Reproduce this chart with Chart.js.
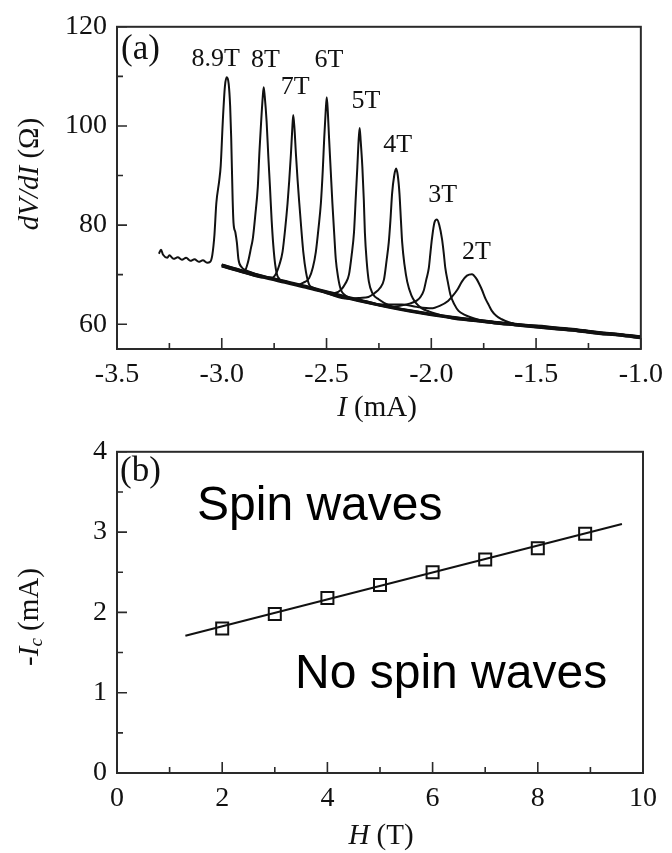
<!DOCTYPE html>
<html>
<head>
<meta charset="utf-8">
<script src="https://cdn.jsdelivr.net/npm/chart.js@4.4.1/dist/chart.umd.min.js"></script>
<style>
  html, body { margin: 0; padding: 0; background: #fff; }
  #wrap { position: relative; width: 672px; height: 853px; }
  canvas { position: absolute; left: 0; }
  #chartA { top: 0; }
  #chartB { top: 425px; }
</style>
</head>
<body>
<div id="wrap">
  <canvas id="chartA" width="672" height="425"></canvas>
  <canvas id="chartB" width="672" height="428"></canvas>
</div>
<script>
// ---- panel (a): dV/dI (ohm) vs I (mA) ----
const fieldLabels = ['8.9T', '8T', '7T', '6T', '5T', '4T', '3T', '2T'];

// shared background
const bgCurrent = [-3.0, -2.9, -2.8, -2.7, -2.6, -2.5, -2.4, -2.3, -2.2, -2.1, -2.0,
  -1.9, -1.8, -1.7, -1.6, -1.5, -1.4, -1.3, -1.2, -1.1, -1.0];
const bgResistance = [71.8, 70.6, 69.5, 68.5, 67.5, 66.4, 65.3, 64.3, 63.4, 62.6, 61.9,
  61.3, 60.8, 60.3, 59.9, 59.5, 59.1, 58.7, 58.2, 57.8, 57.3];
// small per-curve lift of the background (ohm), gives the band its width
const bgLift = [0.0, 0.15, -0.1, 0.2, 0.05, -0.15, 0.1, 0.25];

// peak sections [I, dV/dI]
const peak89T = [[-3.30, 74.2], [-3.29, 75.0], [-3.28, 74.0], [-3.26, 73.4], [-3.25, 73.9], [-3.23, 73.2],
  [-3.21, 73.5], [-3.19, 73.0], [-3.17, 73.4], [-3.15, 72.8], [-3.13, 73.1], [-3.11, 72.6], [-3.09, 72.9],
  [-3.07, 72.4], [-3.055, 72.6], [-3.045, 74.0], [-3.035, 78.0], [-3.026, 84.4], [-3.012, 89.0],
  [-3.005, 92.0], [-2.995, 101.0], [-2.985, 108.0], [-2.976, 109.8], [-2.967, 108.5], [-2.960, 104.0],
  [-2.955, 97.6], [-2.948, 85.0], [-2.944, 80.5], [-2.935, 78.5], [-2.928, 76.5], [-2.920, 73.0],
  [-2.905, 71.5], [-2.89, 71.0], [-2.85, 70.3]];
const peak8T = [[-2.89, 70.8], [-2.875, 72.5], [-2.86, 75.5], [-2.852, 77.2], [-2.84, 82.0], [-2.828, 87.7],
  [-2.82, 95.0], [-2.812, 100.9], [-2.805, 105.5], [-2.800, 107.8], [-2.795, 106.0], [-2.786, 100.9],
  [-2.778, 94.0], [-2.770, 87.7], [-2.762, 81.0], [-2.754, 75.9], [-2.745, 72.0], [-2.733, 69.6]];
const peak7T = [[-2.76, 69.4], [-2.74, 70.3], [-2.725, 72.0], [-2.710, 74.6], [-2.698, 79.0], [-2.686, 84.4],
  [-2.678, 89.0], [-2.670, 94.3], [-2.664, 99.0], [-2.659, 102.2], [-2.653, 99.5], [-2.646, 94.3],
  [-2.638, 89.0], [-2.630, 84.4], [-2.620, 79.0], [-2.611, 74.6], [-2.598, 70.5], [-2.583, 68.0], [-2.565, 67.4]];
const peak6T = [[-2.64, 68.0], [-2.61, 68.4], [-2.583, 69.3], [-2.565, 71.5], [-2.551, 74.6], [-2.538, 79.5],
  [-2.527, 84.4], [-2.518, 91.0], [-2.511, 97.6], [-2.504, 103.0], [-2.499, 105.8], [-2.494, 103.0],
  [-2.488, 97.6], [-2.480, 91.0], [-2.472, 84.4], [-2.463, 78.0], [-2.456, 73.2], [-2.445, 69.5],
  [-2.432, 67.0], [-2.41, 65.8]];
const peak5T = [[-2.46, 66.3], [-2.432, 66.9], [-2.41, 68.2], [-2.393, 70.0], [-2.380, 74.0], [-2.369, 78.5],
  [-2.360, 86.0], [-2.353, 91.7], [-2.347, 97.0], [-2.342, 99.6], [-2.337, 97.0], [-2.329, 91.7],
  [-2.322, 85.0], [-2.317, 78.5], [-2.308, 72.5], [-2.298, 68.6], [-2.280, 66.2], [-2.250, 65.0], [-2.20, 63.8]];
const peak4T = [[-2.34, 65.3], [-2.30, 65.5], [-2.27, 66.3], [-2.245, 67.3], [-2.226, 69.0], [-2.213, 73.0],
  [-2.203, 76.5], [-2.195, 81.0], [-2.187, 86.4], [-2.177, 90.0], [-2.168, 91.4], [-2.160, 90.0],
  [-2.152, 86.4], [-2.145, 81.0], [-2.139, 76.5], [-2.128, 72.0], [-2.115, 68.6], [-2.095, 65.8],
  [-2.076, 64.4], [-2.045, 63.2], [-2.012, 62.6], [-1.97, 62.0]];
const peak3T = [[-2.15, 63.7], [-2.10, 64.2], [-2.068, 64.8], [-2.050, 65.6], [-2.036, 66.8], [-2.024, 69.0],
  [-2.012, 71.3], [-2.004, 74.5], [-1.997, 77.2], [-1.985, 80.5], [-1.973, 81.1], [-1.962, 80.0],
  [-1.949, 77.2], [-1.941, 74.5], [-1.933, 71.3], [-1.921, 68.5], [-1.909, 66.0], [-1.890, 64.0],
  [-1.870, 62.7], [-1.840, 61.9], [-1.806, 61.3], [-1.76, 60.7]];
const peak2T = [[-2.25, 64.0], [-2.14, 64.0], [-2.07, 63.5], [-2.00, 63.2], [-1.96, 63.7], [-1.92, 64.7],
  [-1.90, 65.6], [-1.875, 67.0], [-1.854, 68.6], [-1.830, 69.8], [-1.806, 70.1], [-1.785, 69.2],
  [-1.770, 68.0], [-1.759, 67.0], [-1.740, 65.0], [-1.725, 63.8], [-1.711, 62.7], [-1.690, 61.7],
  [-1.664, 61.0], [-1.63, 60.4], [-1.58, 59.8]];
const peaks = [peak89T, peak8T, peak7T, peak6T, peak5T, peak4T, peak3T, peak2T];

const xTicksA = [-3.5, -3.0, -2.5, -2.0, -1.5, -1.0];
const xMinorA = [-3.25, -2.75, -2.25, -1.75, -1.25];
const yTicksA = [60, 80, 100, 120];
const yMinorA = [70, 90, 110];

// ---- panel (b): -Ic (mA) vs H (T) ----
const fieldH = [2, 3, 4, 5, 6, 7, 8, 8.9];
const criticalI = [1.80, 1.98, 2.18, 2.34, 2.50, 2.66, 2.80, 2.98];
const fitH = [1.3, 9.6];
const fitI = [1.71, 3.10];

const xTicksB = [0, 2, 4, 6, 8, 10];
const xMinorB = [1, 3, 5, 7, 9];
const yTicksB = [0, 1, 2, 3, 4];
const yMinorB = [0.5, 1.5, 2.5, 3.5];

// label anchors (value coords) for the field tags in (a)
const tagPos = [[-3.029, 113.4], [-2.792, 113.2], [-2.649, 107.9], [-2.488, 113.2],
  [-2.312, 104.9], [-2.160, 96.2], [-1.946, 86.1], [-1.784, 74.5]];

const SERIF = '"Liberation Serif", "Times New Roman", serif';
const SANS = '"Liberation Sans", Arial, sans-serif';
const INK = '#111';

function buildCurve(peak, lift) {
  const first = peak[0][0];
  const last = peak[peak.length - 1][0];
  const pts = [];
  bgCurrent.forEach((x, i) => { if (x < first - 0.005) pts.push({ x, y: bgResistance[i] + lift }); });
  peak.forEach(p => pts.push({ x: p[0], y: p[1] }));
  bgCurrent.forEach((x, i) => { if (x > last + 0.02) pts.push({ x, y: bgResistance[i] + lift }); });
  return pts;
}

function fixTicks(list) {
  return function (scale) { scale.ticks = list.map(v => ({ value: v })); };
}

// frame + inward ticks, drawn from the chart's own scales
function framePlugin(id, xMaj, xMin, yMaj, yMin, extra) {
  return {
    id,
    afterDraw(chart) {
      const { ctx, chartArea: a, scales: { x, y } } = chart;
      ctx.save();
      ctx.strokeStyle = '#2a2a2a';
      ctx.lineWidth = 2;
      ctx.strokeRect(a.left, a.top, a.right - a.left, a.bottom - a.top);
      ctx.lineWidth = 1.6;
      ctx.beginPath();
      xMaj.forEach(v => { const px = x.getPixelForValue(v); ctx.moveTo(px, a.bottom); ctx.lineTo(px, a.bottom - 11); });
      xMin.forEach(v => { const px = x.getPixelForValue(v); ctx.moveTo(px, a.bottom); ctx.lineTo(px, a.bottom - 6); });
      yMaj.forEach(v => { const py = y.getPixelForValue(v); ctx.moveTo(a.left, py); ctx.lineTo(a.left + 10, py); });
      yMin.forEach(v => { const py = y.getPixelForValue(v); ctx.moveTo(a.left, py); ctx.lineTo(a.left + 6, py); });
      ctx.stroke();
      ctx.fillStyle = INK;
      extra(ctx, chart);
      ctx.restore();
    }
  };
}

// draws a run of [text, font, dy] pieces, centred on cx
function drawRuns(ctx, runs, cx, cy) {
  let total = 0;
  runs.forEach(r => { ctx.font = r[1]; total += ctx.measureText(r[0]).width; });
  let pos = cx - total / 2;
  ctx.textBaseline = 'middle';
  ctx.textAlign = 'left';
  runs.forEach(r => {
    ctx.font = r[1];
    ctx.fillText(r[0], pos, cy + (r[2] || 0));
    pos += ctx.measureText(r[0]).width;
  });
}

function rotatedRuns(ctx, runs, cx, cy) {
  ctx.save();
  ctx.translate(cx, cy);
  ctx.rotate(-Math.PI / 2);
  drawRuns(ctx, runs, 0, 0);
  ctx.restore();
}

const tickFont = { family: SERIF, size: 28 };

// ---------- chart (a) ----------
const datasetsA = peaks.map((p, i) => ({
  label: fieldLabels[i],
  data: buildCurve(p, bgLift[i]),
  showLine: true,
  borderColor: INK,
  borderWidth: 2,
  pointRadius: 0,
  cubicInterpolationMode: 'monotone',
  fill: false
}));

new Chart(document.getElementById('chartA'), {
  type: 'scatter',
  data: { datasets: datasetsA },
  options: {
    responsive: false,
    animation: false,
    layout: { padding: { top: 20, right: 29, left: 0, bottom: 0 } },
    plugins: { legend: { display: false }, tooltip: { enabled: false } },
    scales: {
      x: {
        type: 'linear', min: -3.5, max: -1.0,
        afterBuildTicks: fixTicks(xTicksA),
        afterFit: s => { s.height = 76; },
        grid: { display: false, drawTicks: false },
        border: { display: false },
        ticks: { font: tickFont, color: INK, padding: 9, callback: v => v.toFixed(1) }
      },
      y: {
        type: 'linear', min: 55, max: 120,
        afterBuildTicks: fixTicks(yTicksA),
        afterFit: s => { s.width = 117; },
        grid: { display: false, drawTicks: false },
        border: { display: false },
        ticks: { font: tickFont, color: INK, padding: 10 }
      }
    }
  },
  plugins: [framePlugin('frameA', xTicksA, xMinorA, yTicksA, yMinorA, (ctx, chart) => {
    const { x, y } = chart.scales;
    ctx.textAlign = 'center';
    ctx.textBaseline = 'middle';
    ctx.font = '26px ' + SERIF;
    fieldLabels.forEach((t, i) => {
      ctx.fillText(t, x.getPixelForValue(tagPos[i][0]), y.getPixelForValue(tagPos[i][1]));
    });
    ctx.textAlign = 'left';
    ctx.font = '35px ' + SERIF;
    ctx.fillText('(a)', 121, 50);
    drawRuns(ctx, [['I', 'italic 29px ' + SERIF], [' (mA)', '29px ' + SERIF]], 377, 408);
    rotatedRuns(ctx, [['dV/dI', 'italic 29px ' + SERIF], [' (\u03A9)', '29px ' + SERIF]], 30, 174);
  })]
});

// ---------- chart (b) ----------
new Chart(document.getElementById('chartB'), {
  type: 'scatter',
  data: {
    datasets: [
      {
        label: 'fit',
        data: fitH.map((h, i) => ({ x: h, y: fitI[i] })),
        showLine: true,
        borderColor: INK,
        borderWidth: 2,
        pointRadius: 0
      },
      {
        label: '-Ic',
        data: fieldH.map((h, i) => ({ x: h, y: criticalI[i] })),
        pointStyle: 'rect',
        pointRadius: 8.5,
        pointBorderWidth: 2,
        pointBorderColor: INK,
        pointBackgroundColor: 'rgba(255,255,255,0)'
      }
    ]
  },
  options: {
    responsive: false,
    animation: false,
    layout: { padding: { top: 19, right: 29, left: 0, bottom: 0 } },
    plugins: { legend: { display: false }, tooltip: { enabled: false } },
    scales: {
      x: {
        type: 'linear', min: 0, max: 10,
        afterBuildTicks: fixTicks(xTicksB),
        afterFit: s => { s.height = 80; },
        grid: { display: false, drawTicks: false },
        border: { display: false },
        ticks: { font: tickFont, color: INK, padding: 9 }
      },
      y: {
        type: 'linear', min: 0, max: 4,
        afterBuildTicks: fixTicks(yTicksB),
        afterFit: s => { s.width = 117; },
        grid: { display: false, drawTicks: false },
        border: { display: false },
        ticks: { font: tickFont, color: INK, padding: 10 }
      }
    }
  },
  plugins: [framePlugin('frameB', xTicksB, xMinorB, yTicksB, yMinorB, (ctx) => {
    ctx.textAlign = 'left';
    ctx.textBaseline = 'middle';
    ctx.font = '35px ' + SERIF;
    ctx.fillText('(b)', 120, 47);
    ctx.textBaseline = 'alphabetic';
    ctx.font = '48px ' + SANS;
    ctx.fillStyle = '#000';
    ctx.fillText('Spin waves', 197, 95);
    ctx.fillText('No spin waves', 295, 263);
    ctx.fillStyle = INK;
    drawRuns(ctx, [['H', 'italic 29px ' + SERIF], [' (T)', '29px ' + SERIF]], 381, 411);
    rotatedRuns(ctx, [['-', '29px ' + SERIF], ['I', 'italic 29px ' + SERIF], ['c', 'italic 19px ' + SERIF, 7],
      [' (mA)', '29px ' + SERIF]], 30, 192);
  })]
});
</script>
</body>
</html>
